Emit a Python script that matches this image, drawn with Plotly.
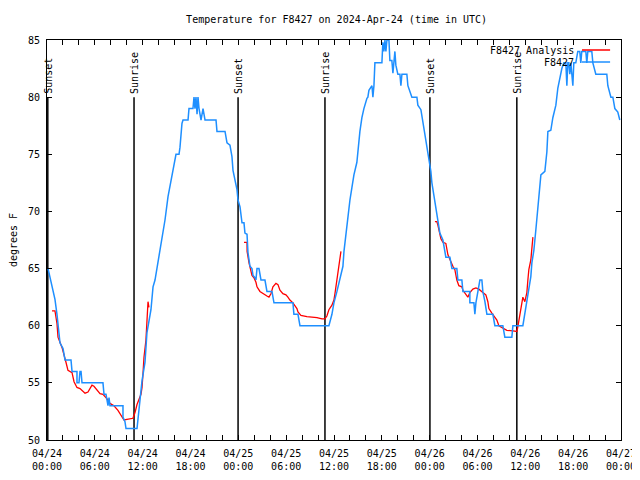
import pandas as pd
import plotly.graph_objects as go

START = pd.Timestamp("2024-04-24 00:00")

# Observed F8427 (hours since start, deg F)
obs_hours = [0.13, 0.38, 0.75, 1.00, 1.25, 1.38, 1.63, 2.01, 2.26, 3.01, 3.14, 3.76, 3.76, 4.01, 4.14, 4.27, 4.39,
             7.02, 7.15, 7.40, 7.53, 7.65, 7.78, 7.90, 9.53, 9.53, 9.78, 9.91, 11.29, 11.42, 11.67, 11.92, 12.29,
             12.54, 13.04, 13.30, 13.55, 13.92, 14.43, 14.80, 15.18, 15.55, 15.93, 16.18, 16.56, 16.68, 16.93,
             17.06, 17.69, 17.81, 18.31, 18.44, 18.56, 18.69, 18.82, 18.94, 19.07, 19.32, 19.57, 19.82, 21.20,
             21.32, 22.33, 22.58, 22.95, 23.20, 23.33, 23.58, 23.83, 23.96, 24.21, 24.46, 24.71, 24.83, 25.09,
             25.21, 25.46, 25.71, 25.84, 26.09, 26.21, 26.34, 26.59, 26.84, 27.34, 27.59, 28.22, 28.47, 30.85,
             30.97, 31.48, 31.73, 35.36, 35.74, 35.99, 36.37, 36.74, 37.12, 37.25, 37.50, 37.75, 38.00, 38.25,
             38.50, 38.87, 39.00, 39.25, 39.50, 39.75, 40.13, 40.25, 40.38, 40.76, 40.88, 41.01, 41.13, 42.01,
             42.13, 42.26, 42.39, 42.51, 42.64, 42.89, 43.01, 43.26, 43.39, 43.64, 43.76, 44.01, 44.27, 44.39,
             44.52, 45.14, 45.27, 45.77, 46.40, 46.52, 46.90, 47.15, 47.40, 47.65, 47.90, 48.15, 48.28, 48.53,
             48.78, 49.03, 49.28, 49.66, 49.78, 50.03, 50.54, 50.79, 51.41, 51.54, 52.04, 52.17, 53.04, 53.04,
             53.55, 53.67, 53.80, 54.05, 54.30, 54.55, 54.67, 54.93, 55.18, 55.93, 56.18, 57.18, 57.43, 58.31,
             58.44, 59.69, 59.94, 60.19, 60.44, 60.69, 60.82, 61.07, 61.32, 61.57, 61.95, 62.45, 62.70, 62.83,
             63.20, 63.45, 63.83, 64.08, 64.33, 64.58, 64.83, 65.08, 65.21, 65.33, 65.46, 65.58, 65.71, 65.96,
             66.08, 66.33, 66.58, 66.83, 66.96, 67.08, 67.59, 67.71, 67.84, 68.34, 68.47, 68.84, 70.22, 70.35,
             70.73, 70.98, 71.23, 71.60, 71.85]
obs_temp = [65, 64.2, 62.8, 62.3, 61, 60, 58.5, 58, 57, 57, 56, 56, 55, 55, 56, 56, 55,
            55, 54, 54, 53.5, 53, 53.7, 53, 53, 52, 51.6, 51, 51, 52, 53.6, 55.2, 56.8,
            59.4, 61.4, 63.4, 64, 65.6, 67.5, 69.25, 71.3, 72.75, 74.2, 75, 75, 75.6, 77.7,
            78, 78, 79, 79, 80, 79, 80, 78.5, 80, 79, 78, 79, 78, 78,
            77, 77, 76, 75.8, 74.8, 73.6, 72.75, 71.9, 71, 70.4, 69, 69, 68.1, 68,
            66.4, 65.2, 65, 64.4, 64.2, 64, 65, 65, 64, 64, 63, 63, 62, 62,
            61, 61, 60, 60, 61, 62, 63, 64, 65.2, 66.5, 68.1, 70, 71, 72.1,
            73.2, 74.3, 75.5, 77, 78.2, 79, 79.9, 80, 80.6, 81, 80, 81, 83, 83,
            84.8, 84, 85, 84, 85, 85, 83.2, 83.2, 82.1, 84, 82.8, 82, 82, 81,
            82, 82, 81, 80, 80, 79.3, 78.9, 77.8, 76.7, 75.5, 74.2, 73.5, 72.5, 71.4,
            70.4, 69.25, 68.1, 67.5, 67, 66, 66, 65, 65, 64, 64, 63, 63, 62,
            62, 61, 62, 63.1, 64, 64, 63, 62.1, 61, 61, 60, 60, 59, 59,
            60, 60, 61, 62, 63, 64.3, 65.5, 66.6, 68.4, 70.6, 73.2, 73.5, 75.2, 77,
            77.1, 78.2, 79.3, 80.8, 81.8, 82.5, 83, 83, 81, 83, 83, 82, 83, 81,
            83, 83, 84, 84, 83, 84, 84, 83, 84, 84, 83, 82, 82, 81,
            80, 80, 79, 78.7, 78]

# F8427 Analysis, three segments (hours since start, deg F)
ana1_hours = [0.63, 1.00, 1.25, 1.38, 1.88, 2.01, 2.38, 2.63, 3.14, 3.39, 3.76, 4.14, 4.77, 5.14, 5.64, 5.89,
              6.27, 6.65, 7.02, 7.53, 7.90, 8.40, 8.90, 9.41, 9.66, 10.03, 10.78, 11.04, 11.29, 11.79, 11.92,
              12.04, 12.16, 12.41, 12.54, 12.67, 12.79]
ana1_temp = [61.3, 61.3, 60.2, 59, 58.1, 57.8, 56.8, 56.1, 55.9, 55.1, 54.6, 54.5, 54.1, 54.2, 54.8, 54.7,
             54.4, 54.05, 54.0, 53.6, 53.2, 53.0, 52.6, 52.0, 51.75, 51.8, 51.9, 52.4, 53.1, 54.0, 54.6,
             55.8, 57.2, 58.75, 60.2, 62.1, 61.6]
ana2_hours = [24.71, 25.09, 25.10, 25.34, 25.71, 25.96, 26.21, 26.34, 26.71, 27.09, 27.59, 27.84, 28.09, 28.34,
              28.72, 28.97, 29.22, 29.59, 29.97, 30.22, 30.47, 30.85, 31.35, 31.48, 31.85, 32.60, 33.36, 33.86,
              34.49, 34.86, 35.11, 35.36, 35.74, 35.99, 36.12, 36.24, 36.37, 36.49, 36.62, 36.87]
ana2_temp = [67.3, 67.3, 66.5, 65.5, 64.4, 64.2, 63.8, 63.4, 63.0, 62.8, 62.6, 62.5, 62.8, 63.4,
             63.7, 63.6, 63.1, 62.8, 62.7, 62.5, 62.25, 62.0, 61.5, 61.2, 60.9, 60.8, 60.75, 60.7,
             60.6, 60.6, 60.85, 61.4, 61.8, 62.25, 62.8, 63.4, 64.0, 64.7, 65.6, 66.5]
ana3_hours = [48.66, 48.91, 49.03, 49.28, 49.41, 49.66, 50.03, 50.29, 50.66, 50.91, 51.16, 51.41, 51.66, 52.04,
              52.17, 52.54, 52.79, 53.04, 53.42, 53.80, 54.17, 54.67, 55.05, 55.30, 55.43, 55.80, 56.05, 56.43,
              56.68, 57.18, 57.68, 58.44, 58.94, 59.06, 59.31, 59.56, 59.69, 59.94, 60.19, 60.32, 60.44, 60.69,
              60.82, 60.95]
ana3_temp = [69.1, 69.1, 68.8, 68.1, 67.6, 67.3, 67.2, 66.2, 65.5, 65.2, 64.9, 64.0, 63.5, 63.4,
             63.1, 62.75, 62.5, 62.9, 63.2, 63.3, 63.2, 62.9, 62.7, 62.1, 61.5, 61.1, 60.9, 60.5,
             60.0, 59.8, 59.6, 59.55, 59.5, 59.9, 60.8, 61.8, 62.5, 62.1, 62.9, 64.0, 64.9, 65.75,
             66.9, 67.75]

# Sun events
event_labels = ["Sunset", "Sunrise", "Sunset", "Sunrise", "Sunset", "Sunrise"]
event_times = ["2024-04-24 00:06", "2024-04-24 10:55", "2024-04-24 23:58",
               "2024-04-25 10:52", "2024-04-26 00:02", "2024-04-26 10:56"]

x_tick_fmt = "%m/%d<br>%H:%M"
title_text = "Temperature for F8427 on 2024-Apr-24 (time in UTC)"
legend_names = ["F8427 Analysis", "F8427"]
colors = ["#FF0000", "#1E8FFF"]


def to_time(hours):
    return list(START + pd.to_timedelta(hours, unit="h"))


ana_x, ana_y = [], []
for hs, ts in [(ana1_hours, ana1_temp), (ana2_hours, ana2_temp), (ana3_hours, ana3_temp)]:
    if ana_x:
        ana_x.append(None)
        ana_y.append(None)
    ana_x += to_time(hs)
    ana_y += ts

FONT = "DejaVu Sans Mono"

fig = go.Figure()
fig.add_trace(go.Scatter(x=ana_x, y=ana_y, mode="lines", name=legend_names[0],
                         line=dict(color=colors[0], width=1.3), connectgaps=False,
                         showlegend=False))
fig.add_trace(go.Scatter(x=to_time(obs_hours), y=obs_temp, mode="lines", name=legend_names[1],
                         line=dict(color=colors[1], width=1.5), showlegend=False))

for lab, t in zip(event_labels, event_times):
    fig.add_shape(type="line", xref="x", yref="y", x0=t, x1=t, y0=50, y1=80,
                  line=dict(color="black", width=1.5), layer="below")
    fig.add_annotation(x=t, y=80.1, xref="x", yref="y", text=lab, textangle=-90,
                       showarrow=False, xanchor="center", yanchor="bottom",
                       font=dict(family=FONT, size=10, color="black"))

# legend (text left of sample, like the original)
leg_y = [0.975, 0.945]
for name, col, yy in zip(legend_names, colors, leg_y):
    fig.add_annotation(xref="paper", yref="paper", x=0.921, y=yy, text=name, showarrow=False,
                       xanchor="right", yanchor="middle", font=dict(family=FONT, size=10, color="black"))
    fig.add_shape(type="line", xref="paper", yref="paper", x0=0.932, x1=0.981, y0=yy, y1=yy,
                  line=dict(color=col, width=1.5))

# page body has an 8px margin: the figure is sized/offset so the plot area lands at
# x 47..621, y 40..440 of the window
fig.update_layout(
    width=632, height=472,
    margin=dict(l=39, r=19, t=32, b=40, autoexpand=False),
    paper_bgcolor="white", plot_bgcolor="white",
    title=dict(text=title_text, x=0.52, xanchor="center", y=1 - 11 / 472, yanchor="middle",
               font=dict(family=FONT, size=10, color="black")),
    font=dict(family=FONT, size=10, color="black"),
)
fig.update_xaxes(
    type="date", range=[START, START + pd.Timedelta(hours=72)], automargin=False,
    tick0=START, dtick=6 * 3600 * 1000, tickformat=x_tick_fmt,
    ticks="inside", ticklen=5, tickcolor="black", showline=True, linecolor="black", linewidth=1,
    mirror="ticks", showgrid=False, zeroline=False, ticklabelstandoff=4,
    tickfont=dict(family=FONT, size=10),
    minor=dict(dtick=2 * 3600 * 1000, ticks="inside", ticklen=5, tickcolor="black", showgrid=False),
)
fig.update_yaxes(
    range=[50, 85], dtick=5, ticks="inside", ticklen=5, tickcolor="black", automargin=False,
    showline=True, linecolor="black", linewidth=1, mirror="ticks", showgrid=False, zeroline=False,
    ticklabelstandoff=4,
    title=dict(text="degrees F", standoff=12, font=dict(family=FONT, size=10)),
    tickfont=dict(family=FONT, size=10),
)

fig.write_html("out.html")
